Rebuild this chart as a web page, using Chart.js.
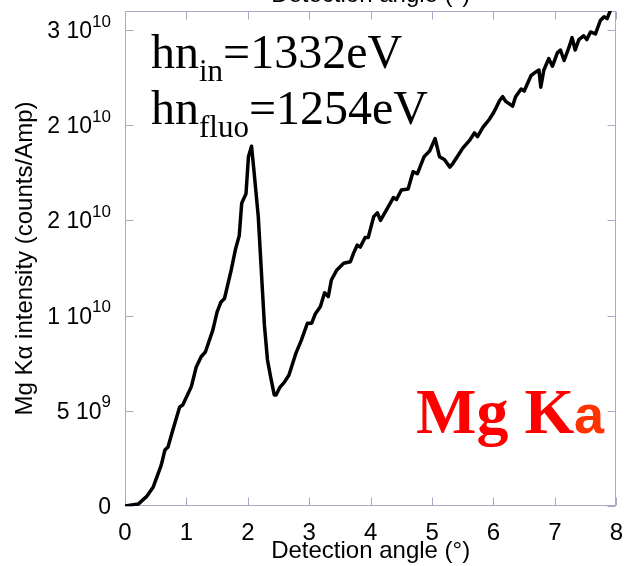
<!DOCTYPE html>
<html><head><meta charset="utf-8">
<script src="https://cdn.jsdelivr.net/npm/chart.js@4.4.1/dist/chart.umd.min.js"></script>
<style>html,body{margin:0;padding:0;background:#fff;}canvas{display:block;}</style>
</head><body>
<canvas id="c" width="628" height="566"></canvas>
<script>
// ---- data ----
const angles = [
  0, 0.215, 0.35, 0.46, 0.59, 0.65, 0.70, 0.78, 0.89, 0.94,
  1.08, 1.16, 1.24, 1.31, 1.43, 1.50, 1.56, 1.62, 1.73, 1.80,
  1.86, 1.90, 1.97, 2.01, 2.06, 2.10, 2.17, 2.24, 2.27, 2.32,
  2.37, 2.43, 2.46, 2.52, 2.59, 2.67, 2.78, 2.87, 2.97, 3.04,
  3.10, 3.18, 3.25, 3.31, 3.36, 3.45, 3.56, 3.67, 3.72, 3.78,
  3.83, 3.91, 3.96, 4.05, 4.11, 4.16, 4.23, 4.37, 4.42, 4.50,
  4.61, 4.69, 4.76, 4.87, 4.96, 5.05, 5.12, 5.20, 5.29, 5.34,
  5.42, 5.50, 5.61, 5.69, 5.74, 5.83, 5.88, 5.93, 5.99, 6.04,
  6.10, 6.15, 6.20, 6.31, 6.36, 6.45, 6.50, 6.61, 6.69, 6.74,
  6.77, 6.82, 6.90, 6.96, 7.04, 7.09, 7.15, 7.23, 7.28, 7.33,
  7.39, 7.47, 7.52, 7.58, 7.66, 7.74, 7.80, 7.85, 7.90
];
const intensity = [
  0, 0.1e9, 0.49e9, 1.0e9, 2.15e9, 2.94e9, 3.1e9, 4.0e9, 5.2e9, 5.3e9,
  6.27e9, 7.3e9, 7.84e9, 8.1e9, 9.24e9, 10.2e9, 10.7e9, 10.9e9, 12.4e9, 13.5e9,
  14.2e9, 15.9e9, 16.4e9, 18.35e9, 18.9e9, 17.6e9, 15.2e9, 11.2e9, 9.5e9, 7.67e9,
  6.8e9, 5.83e9, 5.83e9, 6.23e9, 6.48e9, 6.88e9, 8.0e9, 8.7e9, 9.6e9, 9.6e9,
  10.1e9, 10.47e9, 11.2e9, 11.0e9, 11.87e9, 12.4e9, 12.75e9, 12.83e9, 13.27e9, 13.7e9,
  13.6e9, 14.1e9, 14.1e9, 15.2e9, 15.4e9, 15.0e9, 15.4e9, 16.2e9, 16.1e9, 16.6e9,
  16.65e9, 17.56e9, 17.45e9, 18.35e9, 18.65e9, 19.3e9, 18.35e9, 18.2e9, 17.8e9, 18.0e9,
  18.4e9, 18.8e9, 19.2e9, 19.6e9, 19.4e9, 19.9e9, 20.1e9, 20.3e9, 20.6e9, 20.9e9,
  21.3e9, 21.5e9, 21.25e9, 21.0e9, 21.5e9, 21.9e9, 21.8e9, 22.6e9, 22.8e9, 22.9e9,
  22.0e9, 22.9e9, 23.5e9, 23.1e9, 23.8e9, 23.95e9, 23.4e9, 24.1e9, 24.6e9, 23.95e9,
  24.5e9, 24.7e9, 24.5e9, 24.9e9, 24.8e9, 25.5e9, 25.7e9, 25.6e9, 26.0e9
];
const xTickValues = [0, 1, 2, 3, 4, 5, 6, 7, 8];
const yTickValues = [0, 5e9, 1e10, 1.5e10, 2e10, 2.5e10];
const yTickBase = ["0", "5 10", "1 10", "2 10", "2 10", "3 10"];
const yTickExp  = ["", "9", "10", "10", "10", "10"];
const xTitle = "Detection angle (°)";
const yTitle = "Mg Kα intensity (counts/Amp)";
const note1 = ["hn", "in", "=1332eV"];
const note2 = ["hn", "fluo", "=1254eV"];
const bigLabel = "Mg K";
const bigLabelTail = "a";

// ---- styles ----
const AXIS = '#a8a8c8';
const SANS = '"Liberation Sans", Arial, sans-serif';
const SERIF = '"Liberation Serif", "Times New Roman", serif';

const points = angles.map((a, i) => ({x: a, y: intensity[i]}));

const frame = {
  id: 'frame',
  beforeDatasetsDraw(chart) {
    const {ctx, chartArea: a, scales: {x, y}} = chart;
    ctx.save();
    ctx.strokeStyle = AXIS; ctx.lineWidth = 1;
    const L = Math.round(a.left) + 0.5, R = Math.round(a.right) - 0.5;
    const T = Math.round(a.top) + 0.5, B = Math.round(a.bottom) - 0.5;
    ctx.strokeRect(L, T, R - L, B - T);
    ctx.beginPath();
    x.ticks.forEach(t => {
      const p = Math.round(x.getPixelForValue(t.value)) + 0.5;
      ctx.moveTo(p, B); ctx.lineTo(p, B - 8);
      ctx.moveTo(p, T); ctx.lineTo(p, T + 8);
    });
    y.ticks.forEach(t => {
      const p = Math.round(y.getPixelForValue(t.value)) + 0.5;
      ctx.moveTo(L, p); ctx.lineTo(L + 8, p);
      ctx.moveTo(R, p); ctx.lineTo(R - 8, p);
    });
    ctx.stroke();
    ctx.restore();
  },
  afterDraw(chart) {
    const {ctx, chartArea: a, scales: {y}} = chart;
    ctx.save();
    ctx.fillStyle = '#000';
    ctx.textBaseline = 'alphabetic';
    // y tick labels with superscripts
    const right = a.left - 14;
    y.ticks.forEach((t, i) => {
      const py = y.getPixelForValue(t.value);
      const base = yTickBase[i], exp = yTickExp[i];
      ctx.font = '17px ' + SANS;
      const ew = exp ? ctx.measureText(exp).width : 0;
      ctx.textAlign = 'right';
      if (exp) ctx.fillText(exp, right, py - 3.5);
      ctx.font = '23px ' + SANS;
      ctx.fillText(base, right - ew, py + 8);
    });
    // cut-off top axis title
    ctx.font = '24px ' + SANS;
    ctx.textAlign = 'center';
    ctx.fillText(xTitle, (a.left + a.right) / 2, 2);
    // energy notes
    ctx.textAlign = 'left';
    const drawNote = (n, x0, base, subDrop) => {
      ctx.font = '48px ' + SERIF;
      ctx.fillText(n[0], x0, base);
      let xx = x0 + ctx.measureText(n[0]).width;
      ctx.font = '31px ' + SERIF;
      ctx.fillText(n[1], xx, base + subDrop);
      xx += ctx.measureText(n[1]).width;
      ctx.font = '48px ' + SERIF;
      ctx.fillText(n[2], xx, base);
    };
    drawNote(note1, 151, 68, 13);
    drawNote(note2, 151, 124, 12.5);
    // Mg Ka label
    ctx.font = 'bold 64px ' + SERIF;
    ctx.fillStyle = '#ff0000';
    ctx.fillText(bigLabel, 416, 433);
    ctx.font = 'bold 54px ' + SANS;
    ctx.fillStyle = '#ff3300';
    ctx.fillText(bigLabelTail, 574, 433);
    ctx.restore();
  }
};

new Chart(document.getElementById('c'), {
  type: 'line',
  data: {
    datasets: [{
      data: points,
      borderColor: '#000',
      borderWidth: 3.5,
      borderJoinStyle: 'round',
      borderCapStyle: 'round',
      pointRadius: 0,
      tension: 0,
      fill: false
    }]
  },
  options: {
    responsive: false,
    animation: false,
    devicePixelRatio: 1,
    layout: {padding: {top: 11, right: 8, bottom: 0, left: 0}},
    plugins: {legend: {display: false}, tooltip: {enabled: false}},
    scales: {
      x: {
        type: 'linear', min: 0, max: 8,
        afterBuildTicks: s => { s.ticks = xTickValues.map(v => ({value: v})); },
        afterFit: s => { s.height = 60; },
        grid: {display: false}, border: {display: false},
        ticks: {color: '#000', font: {family: SANS, size: 24}, padding: 5, autoSkip: false, maxRotation: 0,
                callback: v => String(v)},
        title: {display: true, text: xTitle, color: '#000', font: {family: SANS, size: 24}, padding: {top: 0, bottom: 0}}
      },
      y: {
        type: 'linear', min: 0, max: 2.6e10,
        afterBuildTicks: s => { s.ticks = yTickValues.map(v => ({value: v})); },
        afterFit: s => { s.width = 125; },
        grid: {display: false}, border: {display: false},
        ticks: {display: false},
        title: {display: true, text: yTitle, color: '#000', font: {family: SANS, size: 24}, padding: {top: 11, bottom: 0}}
      }
    }
  },
  plugins: [frame]
});
</script>
</body></html>
